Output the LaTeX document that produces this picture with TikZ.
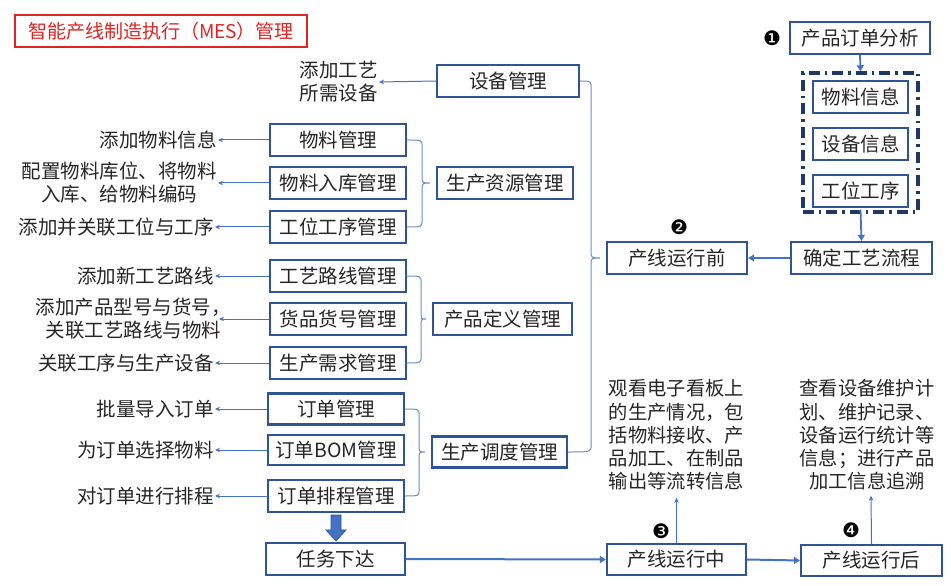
\documentclass[tikz,border=0pt]{standalone}
\usepackage{fontspec}
\newfontfamily\cjk{Noto Sans CJK SC}
\newfontfamily\dejavu{DejaVu Sans}
\usetikzlibrary{arrows.meta,calc,fit}
\definecolor{boxblue}{HTML}{2F5597}
\definecolor{lineblue}{HTML}{4472C4}
\definecolor{brcblue}{HTML}{6A8CCB}
\definecolor{navy}{HTML}{1F3864}
\definecolor{titlered}{HTML}{E02424}
\definecolor{txt}{HTML}{262626}
\tikzset{
  box/.style={draw=boxblue, line width=2.2bp, fill=white, minimum height=32bp, inner sep=0pt,
    text=txt, font=\cjk\fontsize{19.5bp}{22bp}\selectfont},
  lbl/.style={anchor=east, inner sep=1bp, text=txt, align=center,
    font=\cjk\fontsize{19.5bp}{23bp}\selectfont},
  para/.style={inner sep=0pt, text=txt, align=center,
    font=\cjk\fontsize{19.3bp}{23.3bp}\selectfont},
  thin/.style={draw=lineblue, line width=1bp, -{Stealth[length=5bp,width=4.5bp]}},
  thick/.style={draw=lineblue, line width=2.2bp, -{Triangle[length=6bp,width=7bp]}},
  brc/.style={draw=brcblue, line width=1bp},
  num/.style={inner sep=0pt, font=\dejavu\fontsize{20bp}{20bp}\selectfont}
}
\newcommand\curlylink[4]{%
  \draw[brc] let \p1=(#1.east), \p2=(#2.east), \p3=(#3.west) in
    (\x1,\y1) .. controls (\x1+#4,\y1) .. (\x1+#4,\y1-7bp)
    -- (\x1+#4,\y3+7bp) .. controls (\x1+#4,\y3) .. (\x3-6bp,\y3)
    .. controls (\x1+#4,\y3) .. (\x1+#4,\y3-7bp)
    -- (\x1+#4,\y2+7bp) .. controls (\x1+#4,\y2) .. (\x2,\y2);
}
\begin{document}
\begin{tikzpicture}[x=1bp,y=-1bp]
\useasboundingbox[fill=white] (0,0) rectangle (951,586);

% title
\node[draw=titlered, line width=2.4bp, minimum width=292bp, minimum height=32bp, inner sep=0pt,
  text=titlered, font=\cjk\fontsize{19bp}{22bp}\selectfont] (title) at (161,31)
  {智能产线制造执行（MES）管理};

% left column boxes
\node[box, minimum width=142bp] (equip) at (508,81) {设备管理};
\node[box, minimum width=136bp] (mat) at (338,140) {物料管理};
\node[box, minimum width=136bp] (matin) at (338,183) {物料入库管理};
\node[box, minimum width=136bp] (stat) at (338,227) {工位工序管理};
\node[box, minimum width=136bp] (res) at (505,183) {生产资源管理};
\node[box, minimum width=136bp] (route) at (338,276) {工艺路线管理};
\node[box, minimum width=136bp] (goods) at (338,319) {货品货号管理};
\node[box, minimum width=136bp] (demand) at (338,363) {生产需求管理};
\node[box, minimum width=139bp] (def) at (502.5,319) {产品定义管理};
\node[box, minimum width=136bp, minimum height=31bp] (order) at (336,409) {订单管理};
\node[box, minimum width=136bp, minimum height=30bp] (bom) at (336,450) {订单BOM管理};
\node[box, minimum width=136bp] (sched) at (336,496) {订单排程管理};
\node[box, minimum width=135bp, minimum height=31bp] (disp) at (499.5,452) {生产调度管理};
\node[box, minimum width=139bp] (task) at (335.5,559) {任务下达};

% right part
\node[box, minimum width=140bp] (before) at (677,258) {产线运行前};
\node[box, minimum width=139bp, minimum height=31bp] (during) at (676.5,559.5) {产线运行中};
\node[box, minimum width=141bp, minimum height=31bp] (after) at (871.5,560.5) {产线运行后};
\node[box, minimum width=140bp] (poa) at (860,38) {产品订单分析};
\node[box, minimum width=95bp] (info1) at (860.5,97) {物料信息};
\node[box, minimum width=95bp] (info2) at (860.5,144) {设备信息};
\node[box, minimum width=95bp] (info3) at (860.5,191) {工位工序};
\node[box, minimum width=141bp] (proc) at (861.5,258) {确定工艺流程};
\node[draw=navy, line width=3.5bp, dash pattern=on 11bp off 5bp on 2.5bp off 5bp,
  inner xsep=9bp, inner ysep=0pt, fit=(info1)(info3), yshift=1.5bp, minimum height=139bp] (infobox) {};

% labels
\node[lbl] (lequip) at (379,82) {添加工艺\\所需设备};
\node[lbl] (lmat) at (218,140) {添加物料信息};
\node[lbl] (lmatin) at (218,183) {配置物料库位、将物料\\入库、给物料编码};
\node[lbl] (lstat) at (215,227) {添加并关联工位与工序};
\node[lbl] (lroute) at (215,276) {添加新工艺路线};
\node[lbl] (lgoods) at (232,319) {添加产品型号与货号，\\关联工艺路线与物料};
\node[lbl] (ldemand) at (215,363) {关联工序与生产设备};
\node[lbl] (lorder) at (215,409) {批量导入订单};
\node[lbl] (lbom) at (215,450) {为订单选择物料};
\node[lbl] (lsched) at (215,496) {对订单进行排程};

\node[para] (pduring) at (676.5,435) {观看电子看板上\\的生产情况，包\\括物料接收、产\\品加工、在制品\\输出等流转信息};
\node[para] (pafter) at (867,435) {查看设备维护计\\划、维护记录、\\设备运行统计等\\信息；进行产品\\加工信息追溯};

% number markers
\node[num] (n1) at (772,38) {❶};
\node[num] (n2) at (679,227) {❷};
\node[num] (n3) at (661,531) {❸};
\node[num] (n4) at (851,530) {❹};

% label arrows
\draw[thin] (equip.west) -- (lequip.east);
\draw[thin] (mat.west) -- (lmat.east);
\draw[thin] (matin.west) -- (lmatin.east);
\draw[thin] (stat.west) -- (lstat.east);
\draw[thin] (route.west) -- (lroute.east);
\draw[thin] (goods.west) -- ([xshift=-13bp]lgoods.east);
\draw[thin] (demand.west) -- (ldemand.east);
\draw[thin] (order.west) -- (lorder.east);
\draw[thin] (bom.west) -- (lbom.east);
\draw[thin] (sched.west) -- (lsched.east);

% braces
\curlylink{mat}{stat}{res}{15bp}
\curlylink{route}{demand}{def}{14bp}
\curlylink{order}{sched}{disp}{14bp}
\curlylink{equip}{disp}{before}{11bp}

% block arrow
\filldraw[draw=boxblue, fill=lineblue, line width=0.8bp]
  let \p1=(sched.south), \p2=(task.north) in
  (\x1-5bp,\y1-2bp) -- (\x1-5bp,\y2+12bp) -- (\x1-10bp,\y2+12bp) -- (\x1,\y2+1bp)
  -- (\x1+10bp,\y2+12bp) -- (\x1+5bp,\y2+12bp) -- (\x1+5bp,\y1-2bp) -- cycle;

% right side arrows
\draw[thick, line width=1.8bp] (poa.south) -- (infobox.north);
\draw[thick, line width=1.8bp] ([yshift=4bp]infobox.south) -- (proc.north);
\draw[thick, line width=2.6bp] (proc.west) -- (before.east);
\draw[thick, line width=2bp] (task.east) -- (during.west);
\draw[thick, line width=2bp] (during.east) -- (after.west);
\draw[thin] (during.north) -- ([yshift=-7bp]pduring.south);
\draw[thin] (after.north) -- ([yshift=-5bp,xshift=4bp]pafter.south);
\end{tikzpicture}
\end{document}
